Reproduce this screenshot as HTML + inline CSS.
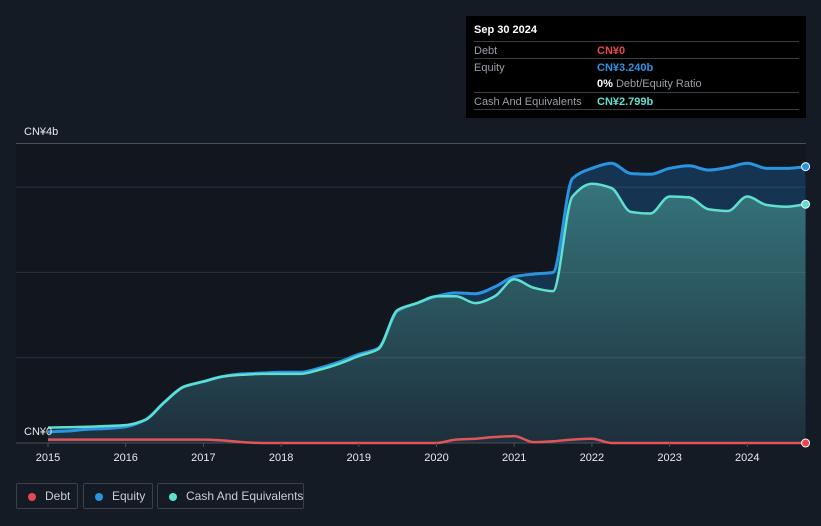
<!DOCTYPE html>
<html><head><meta charset="utf-8">
<style>
body{margin:0;background:#151b25;font-family:"Liberation Sans","Noto Sans CJK SC",sans-serif;}
#wrap{position:relative;width:821px;height:526px;overflow:hidden;background:#151b25;}
svg{position:absolute;left:0;top:0;}
.tip{position:absolute;left:466px;top:16px;width:340px;height:102px;background:#000;color:#fff;font-size:11px;}
.tip .row{position:absolute;left:8px;width:325px;height:17px;border-top:1px solid #3a3d44;}
.tip .l{position:absolute;left:0;top:3px;color:#9a9ea6;white-space:nowrap;}
.tip .v{position:absolute;left:123px;top:3px;font-weight:bold;white-space:nowrap;}
.leg{position:absolute;top:483px;height:26px;border:1px solid #3a404b;border-radius:2px;color:#c9ccd2;font-size:12px;box-sizing:border-box;white-space:nowrap;}
.leg i{position:absolute;left:11px;top:9px;width:8px;height:8px;border-radius:50%;}
.leg span{position:absolute;left:28px;top:5px;white-space:nowrap;}
</style></head><body>
<div id="wrap">
<svg id="chart" width="821" height="526"></svg>
<div class="tip">
 <div style="position:absolute;left:8px;top:8px;font-weight:bold;font-size:11px">Sep 30 2024</div>
 <div class="row" style="top:25px"><span class="l">Debt</span><span class="v" style="color:#e5484d">CN¥0</span></div>
 <div class="row" style="top:42px"><span class="l">Equity</span><span class="v" style="color:#2b94e0">CN¥3.240b</span></div>
 <div class="row" style="top:59px;border-top:none"><span class="v" style="color:#fff">0% <span style="color:#9a9ea6;font-weight:normal">Debt/Equity Ratio</span></span></div>
 <div class="row" style="top:76px"><span class="l">Cash And Equivalents</span><span class="v" style="color:#5ee0cf">CN¥2.799b</span></div>
 <div class="row" style="top:93px;height:0"></div>
</div>
<div class="leg" style="left:16px;width:62px"><i style="background:#e5484d"></i><span>Debt</span></div>
<div class="leg" style="left:83px;width:70px"><i style="background:#2b94e0"></i><span>Equity</span></div>
<div class="leg" style="left:157px;width:147px"><i style="background:#5ee0cf"></i><span>Cash And Equivalents</span></div>
</div>
<script>
const times=[2015,2015.25,2015.5,2015.75,2016,2016.25,2016.5,2016.75,2017,2017.25,2017.5,2017.75,2018,2018.25,2018.5,2018.75,2019,2019.25,2019.5,2019.75,2020,2020.25,2020.5,2020.75,2021,2021.25,2021.5,2021.75,2022,2022.25,2022.5,2022.75,2023,2023.25,2023.5,2023.75,2024,2024.25,2024.5,2024.75];
const equity=[0.13,0.14,0.16,0.17,0.19,0.27,0.48,0.66,0.72,0.78,0.81,0.82,0.83,0.83,0.88,0.95,1.04,1.11,1.55,1.64,1.72,1.76,1.75,1.83,1.95,1.98,2.0,3.10,3.22,3.28,3.16,3.15,3.22,3.25,3.2,3.23,3.28,3.22,3.22,3.24];
const cash=[0.18,0.185,0.19,0.2,0.21,0.27,0.48,0.66,0.72,0.78,0.8,0.81,0.81,0.81,0.86,0.93,1.02,1.1,1.56,1.64,1.72,1.72,1.64,1.72,1.92,1.82,1.78,2.89,3.04,2.99,2.71,2.69,2.89,2.88,2.74,2.72,2.89,2.79,2.77,2.799];
const debt=[0.04,0.04,0.04,0.04,0.04,0.04,0.04,0.04,0.04,0.03,0.01,0,0,0,0,0,0,0,0,0,0,0.04,0.05,0.07,0.08,0.01,0.02,0.04,0.05,0,0,0,0,0,0,0,0,0,0,0];
const yTicks=[0,1,2,3];
const xTicks=[2015,2016,2017,2018,2019,2020,2021,2022,2023,2024];
const NS="http://www.w3.org/2000/svg";
const svg=document.getElementById('chart');
const X=t=>48+(t-2015)*77.7;
const Y=v=>443-v*85.3;
function el(tag,attrs,parent){const e=document.createElementNS(NS,tag);for(const k in attrs)e.setAttribute(k,attrs[k]);(parent||svg).appendChild(e);return e;}
svg.innerHTML='<defs><linearGradient id="cg" x1="0" y1="0" x2="0" y2="1"><stop offset="0" stop-color="#36747c"/><stop offset="1" stop-color="#1d2f3c"/></linearGradient></defs>';
const bg=el('rect',{x:16,y:143,width:790,height:300,fill:'#12161e'});


function path(vals){const p=vals.map((v,i)=>[X(times[i]),Y(v)]);const n=p.length;
 const s=[];for(let i=0;i<n-1;i++)s.push((p[i+1][1]-p[i][1])/(p[i+1][0]-p[i][0]));
 const t=[];for(let i=0;i<n;i++){if(i===0)t.push(s[0]);else if(i===n-1)t.push(s[n-2]);else{const a=s[i-1],b=s[i];t.push(a*b<=0?0:2*a*b/(a+b));}}
 let d='M'+p[0][0]+','+p[0][1];
 for(let i=0;i<n-1;i++){const h=(p[i+1][0]-p[i][0])/3;
 d+=' C'+(p[i][0]+h)+','+(p[i][1]+t[i]*h)+' '+(p[i+1][0]-h)+','+(p[i+1][1]-t[i+1]*h)+' '+p[i+1][0]+','+p[i+1][1];}return d;}
function area(vals){return path(vals)+' L'+X(times[times.length-1])+','+Y(0)+' L'+X(times[0])+','+Y(0)+'Z';}
const ea=el('path',{d:area(equity),fill:'#143452'});

const ca=el('path',{d:area(cash),fill:'url(#cg)'});

yTicks.forEach(v=>{const g=el('line',{x1:16,x2:806,y1:Y(v),y2:Y(v),stroke:v===0?'#4a4f58':'rgba(120,130,145,0.25)','stroke-width':1});
 });
const topLine=el('line',{x1:16,x2:806,y1:143.5,y2:143.5,stroke:'#4a4f58'});

const el1=el('path',{d:path(equity),fill:'none',stroke:'#2b94e0','stroke-width':3});

const cl=el('path',{d:path(cash),fill:'none',stroke:'#5ee0cf','stroke-width':2.5});

const dl=el('path',{d:path(debt),fill:'none',stroke:'#e0555a','stroke-width':2.5});

[[equity,'#2b94e0','equity-end-dot'],[cash,'#5ee0cf','cash-end-dot'],[debt,'#e5484d','debt-end-dot']].forEach(([a,c,n])=>{
 const d=el('circle',{cx:X(times[times.length-1]),cy:Y(a[a.length-1]),r:4,fill:c,stroke:'#fff','stroke-width':1});
 });
xTicks.forEach(t=>{const tk=el('line',{x1:X(t),x2:X(t),y1:443,y2:447,stroke:'#4a4f58'});
 
 const tx=el('text',{x:X(t),y:461,fill:'#e6e8eb','font-size':11,'text-anchor':'middle'});tx.textContent=t;
 });
const l0=el('text',{x:24,y:435,fill:'#e6e8eb','font-size':11});l0.textContent='CN¥0';

const l4=el('text',{x:24,y:135,fill:'#e6e8eb','font-size':11});l4.textContent='CN¥4b';

</script>
</body></html>
